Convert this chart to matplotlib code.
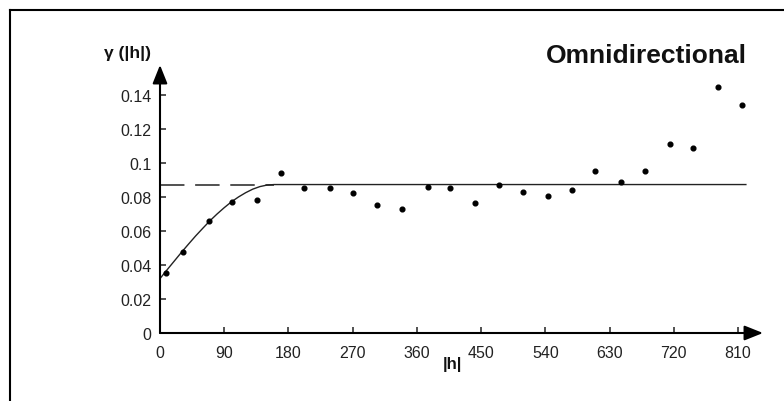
import matplotlib
matplotlib.use("Agg")
import matplotlib.pyplot as plt
from matplotlib.lines import Line2D

# Experimental variogram (lag |h|, gamma)
lag = [8, 32, 68, 101, 136, 169, 202, 238, 271, 304, 339, 375, 407, 441, 475,
       509, 544, 577, 610, 646, 680, 714, 747, 782, 815]
gamma = [0.0353, 0.0475, 0.0659, 0.0771, 0.0780, 0.0940, 0.0851, 0.0851, 0.0824,
         0.0755, 0.0727, 0.0861, 0.0851, 0.0763, 0.0869, 0.0831, 0.0806, 0.0841,
         0.0955, 0.0886, 0.0955, 0.1114, 0.1086, 0.1445, 0.1340]

# Fitted model curve
model_h = [0, 10, 20, 30, 40, 50, 60, 70, 80, 90, 100, 110, 120, 130, 140, 150, 160, 821]
model_g = [0.0320, 0.0372, 0.0423, 0.0474, 0.0523, 0.0571, 0.0616, 0.0660, 0.0700,
           0.0737, 0.0771, 0.0800, 0.0825, 0.0846, 0.0861, 0.0870, 0.0873, 0.0873]

# Sill (dashed part up to the range)
sill_h = [0, 160]
sill_g = [0.0873, 0.0873]

xticks = [0, 90, 180, 270, 360, 450, 540, 630, 720, 810]
yticks = [0, 0.02, 0.04, 0.06, 0.08, 0.10, 0.12, 0.14]
ytick_labels = ["0", "0.02", "0.04", "0.06", "0.08", "0.1", "0.12", "0.14"]

plt.rcParams['font.family'] = ['Liberation Sans', 'DejaVu Sans']

W, H = 784, 402
fig = plt.figure(figsize=(W / 100, H / 100), dpi=100)
fig.patch.set_facecolor('white')

ax = fig.add_axes([160 / W, (H - 334) / H, 603 / W, 268 / H])
ax.set_xlim(0, 845)
ax.set_ylim(0, 0.1576)
for s in ax.spines.values():
    s.set_visible(False)
ax.patch.set_alpha(0)

ax.plot(sill_h, sill_g, color='#222222', lw=1.1, dashes=(16, 7))
ax.plot(model_h, model_g, color='#222222', lw=1.0)
ax.plot(lag, gamma, 'o', color='black', ms=3.4, mec='black')

ax.set_xticks(xticks)
ax.set_xticklabels([str(t) for t in xticks])
ax.set_yticks(yticks)
ax.set_yticklabels(ytick_labels)
ax.tick_params(axis='both', direction='in', length=4, width=1.2, colors='#333333',
               labelsize=11.5, labelcolor='#222222')
ax.tick_params(axis='x', pad=9)
ax.tick_params(axis='y', pad=6)

arrow = dict(arrowstyle='-|>,head_length=0.75,head_width=0.3', mutation_scale=15,
             lw=1.5, color='black', shrinkA=0, shrinkB=0)
ax.annotate('', xy=(845, 0), xytext=(0, 0), xycoords='data', textcoords='data',
            arrowprops=arrow, annotation_clip=False)
ax.annotate('', xy=(0, 0.1576), xytext=(0, 0), xycoords='data', textcoords='data',
            arrowprops=arrow, annotation_clip=False)

fig.text(128 / W, 1 - 54 / H, 'γ (|h|)', fontsize=12.5, fontweight='bold',
         ha='center', va='center', color='#111111')
fig.text(452 / W, 1 - 365 / H, '|h|', fontsize=12, fontweight='bold',
         ha='center', va='center', color='#111111')
fig.text(747 / W, 1 - 56 / H, 'Omnidirectional', fontsize=19, fontweight='bold',
         ha='right', va='center', color='#111111')

# Surrounding frame (top and left edges)
fig.add_artist(Line2D([10 / W, 1.0], [1 - 11 / H, 1 - 11 / H], color='black', lw=1.5,
                      transform=fig.transFigure))
fig.add_artist(Line2D([10 / W, 10 / W], [1 - 11 / H, 0.0], color='black', lw=1.5,
                      transform=fig.transFigure))

fig.savefig('out.png', dpi=100, facecolor='white')
